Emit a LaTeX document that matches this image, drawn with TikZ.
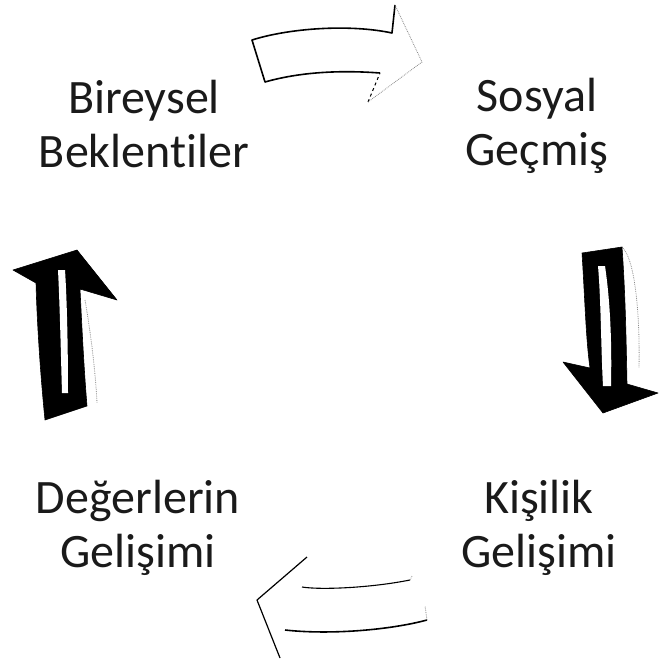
\documentclass[tikz,border=0pt]{standalone}
\usepackage{fontspec}
\setmainfont{Carlito}[Ligatures=NoCommon]
\usetikzlibrary{positioning}
\definecolor{ink}{HTML}{1A1A1A}
\definecolor{faint}{HTML}{8C8C8C}

\begin{document}
\begin{tikzpicture}[
  x=1pt, y=-1pt,
  label/.style={align=center, inner sep=0pt, text=ink,
                font=\fontsize{48}{54}\selectfont},
  blockline/.style={draw=black, line width=1.6pt, line join=round},
  fadeline/.style={draw=faint, line width=0.8pt, densely dotted},
  darkarrow/.style={fill=black, draw=black, line width=0.6pt, line join=round},
  stripe/.style={fill=white, draw=none}
]
\useasboundingbox (0,0) rectangle (659,661);

% the four stages
\node[label] (bireysel) at (144,124) {Bireysel\\Beklentiler};
\node[label] (sosyal)   at (537,126) {Sosyal\\Geçmiş};
\node[label] (kisilik)  at (539,528) {Kişilik\\Gelişimi};
\node[label] (degerler) at (138,528) {Değerlerin\\Gelişimi};

% top arrow (white, pointing right)
\fill[white] (252,40) .. controls (290,28) and (350,24) .. (392,33)
  -- (395,5) -- (422,62) -- (368,102) -- (380,73)
  .. controls (340,70) and (300,72) .. (265,82) -- cycle;
\draw[blockline] (380,73) .. controls (340,70) and (300,72) .. (265,82)
  -- (252,40) .. controls (290,28) and (350,24) .. (392,33) -- (395,5);
\draw[blockline, line width=1pt, dashed] (368,102) -- (380,73);
\draw[fadeline] (395,5) -- (422,62) -- (368,102);

% right arrow (dark, pointing down)
\draw[fadeline] (622,247) .. controls (636,260) and (640,320) .. (639,368);
\fill[darkarrow] (582,253) .. controls (585,300) and (586,340) .. (590,368)
  -- (563,362) -- (603,413) -- (658,393) -- (627,384)
  .. controls (626,330) and (625,290) .. (622,247) -- cycle;
\fill[stripe] (598,266) .. controls (601,300) and (601,350) .. (603,386)
  -- (611,386) .. controls (612,340) and (610,300) .. (605,266) -- cycle;

% bottom arrow (white, pointing left)
\draw[blockline, line width=1.2pt] (307,557) -- (257,600) -- (280,658);
\draw[blockline, line width=1.1pt] (302,587) .. controls (320,590) and (370,588) .. (410,580);
\draw[blockline] (285,630) .. controls (330,635) and (390,630) .. (427,620);
\draw[fadeline] (410,580) -- (412,576);
\draw[fadeline] (427,620) -- (425,606);

% left arrow (dark, pointing up)
\draw[fadeline] (85,300) .. controls (92,340) and (96,380) .. (97,403);
\fill[darkarrow] (77,250) -- (117,300) -- (80,289)
  .. controls (82,330) and (84,370) .. (87,406) -- (45,420)
  .. controls (40,370) and (37,320) .. (36,283) -- (13,270) -- cycle;
\fill[stripe] (58,270) .. controls (60,310) and (61,360) .. (62,393)
  -- (68,393) .. controls (68,350) and (67,300) .. (65,270) -- cycle;
\end{tikzpicture}
\end{document}
